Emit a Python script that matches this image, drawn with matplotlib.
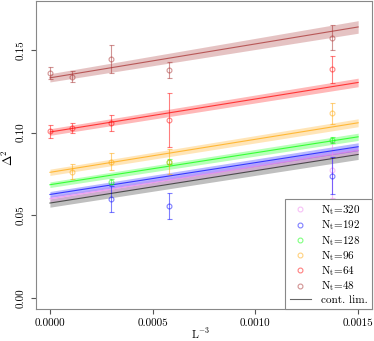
import numpy as np
import matplotlib
matplotlib.use("Agg")
import matplotlib.pyplot as plt

plt.rcParams["font.family"] = ["cmr10", "DejaVu Serif"]
plt.rcParams["mathtext.fontset"] = "cm"
plt.rcParams["axes.formatter.use_mathtext"] = True

# x = L^-3 for L = inf, 21, 15, 12, 9
X_PTS = [0.0, 1 / 21**3, 1 / 15**3, 1 / 12**3, 1 / 9**3]

NT_LABELS = ["320", "192", "128", "96", "64", "48"]
COLORS = ["violet", "blue", "lime", "orange", "red", "brown"]

# measured points (None = no point)
DELTA2 = [
    [None, None, None, None, 0.0774],
    [None, None, 0.0599, 0.0556, 0.0740],
    [None, None, 0.0703, 0.0824, 0.0955],
    [None, 0.0764, 0.0824, 0.0824, 0.1117],
    [0.1008, 0.1030, 0.1060, 0.1076, 0.1383],
    [0.1362, 0.1340, 0.1445, 0.1378, 0.1574],
]
DELTA2_ERR = [
    [None, None, None, None, 0.017],
    [None, None, 0.0077, 0.0079, 0.011],
    [None, None, 0.0015, 0.0015, 0.0020],
    [None, 0.0045, 0.0050, 0.0075, 0.0063],
    [0.0038, 0.0030, 0.0047, 0.0162, 0.0084],
    [0.0035, 0.0032, 0.0084, 0.0050, 0.0075],
]

# fit lines: value at x=0 and at x=0.0015, with band half-width
FIT_X = [0.0, 0.0015]
FIT_START = [0.0600, 0.0626, 0.0685, 0.0760, 0.1004, 0.1332]
FIT_END = [0.0893, 0.0915, 0.0975, 0.1060, 0.1304, 0.1640]
FIT_ERR0 = [0.0018, 0.0018, 0.0017, 0.0019, 0.0020, 0.0025]
FIT_ERR1 = [0.0022, 0.0024, 0.0022, 0.0024, 0.0026, 0.0038]

CONT_START = 0.0574
CONT_END = 0.0868
CONT_ERR0 = 0.0025
CONT_ERR1 = 0.0030

fig = plt.figure(figsize=(3.74, 3.41), dpi=100)
ax = fig.add_axes([0.095, 0.094, 0.900, 0.903])

# continuum limit band first (lowest)
ax.fill_between(FIT_X, [CONT_START - CONT_ERR0, CONT_END - CONT_ERR1],
                [CONT_START + CONT_ERR0, CONT_END + CONT_ERR1],
                color="gray", alpha=0.5, linewidth=0)

for i in range(len(NT_LABELS)):
    c = COLORS[i]
    lo = [FIT_START[i] - FIT_ERR0[i], FIT_END[i] - FIT_ERR1[i]]
    hi = [FIT_START[i] + FIT_ERR0[i], FIT_END[i] + FIT_ERR1[i]]
    ax.fill_between(FIT_X, lo, hi, color=c, alpha=0.28, linewidth=0)
    ax.plot(FIT_X, [FIT_START[i], FIT_END[i]], color=c, lw=0.8, alpha=0.7)

    xs = [x for x, v in zip(X_PTS, DELTA2[i]) if v is not None]
    ys = [v for v in DELTA2[i] if v is not None]
    es = [e for e in DELTA2_ERR[i] if e is not None]
    ax.errorbar(xs, ys, yerr=es, fmt="none", ecolor=c, elinewidth=0.8,
                capsize=1.8, capthick=0.8, alpha=0.5)
    ax.plot(xs, ys, "o", mfc="none", mec=c, ms=3.5, mew=0.8, alpha=0.5,
            label=r"N$_{\rm t}$=" + NT_LABELS[i])

ax.plot(FIT_X, [CONT_START, CONT_END], color="black", lw=0.8, alpha=0.6,
        label="cont. lim.")

ax.set_xlim(-0.00007, 0.001568)
ax.set_ylim(-0.0067, 0.1797)
ax.set_xticks([0.0, 0.0005, 0.0010, 0.0015])
ax.set_xticklabels(["0.0000", "0.0005", "0.0010", "0.0015"])
ax.set_yticks([0.0, 0.05, 0.10, 0.15])
ax.set_yticklabels(["0.00", "0.05", "0.10", "0.15"], rotation=90, va="center")
ax.tick_params(colors="#555555", labelcolor="black", labelsize=8, length=3.5)
for s in ax.spines.values():
    s.set_color("#888888")

ax.set_xlabel(r"L$^{-3}$", fontsize=8)
ax.xaxis.set_label_coords(0.49, -0.058)
ax.set_ylabel(r"$\Delta^2$", fontsize=9)
ax.yaxis.set_label_coords(-0.058, 0.49)

leg = ax.legend(loc="lower right", fontsize=8, fancybox=False, framealpha=1,
                edgecolor="#888888", borderaxespad=0, handlelength=1.9,
                handletextpad=0.9, labelspacing=0.12)
leg.get_frame().set_linewidth(0.8)

fig.savefig("out.png", dpi=100)
